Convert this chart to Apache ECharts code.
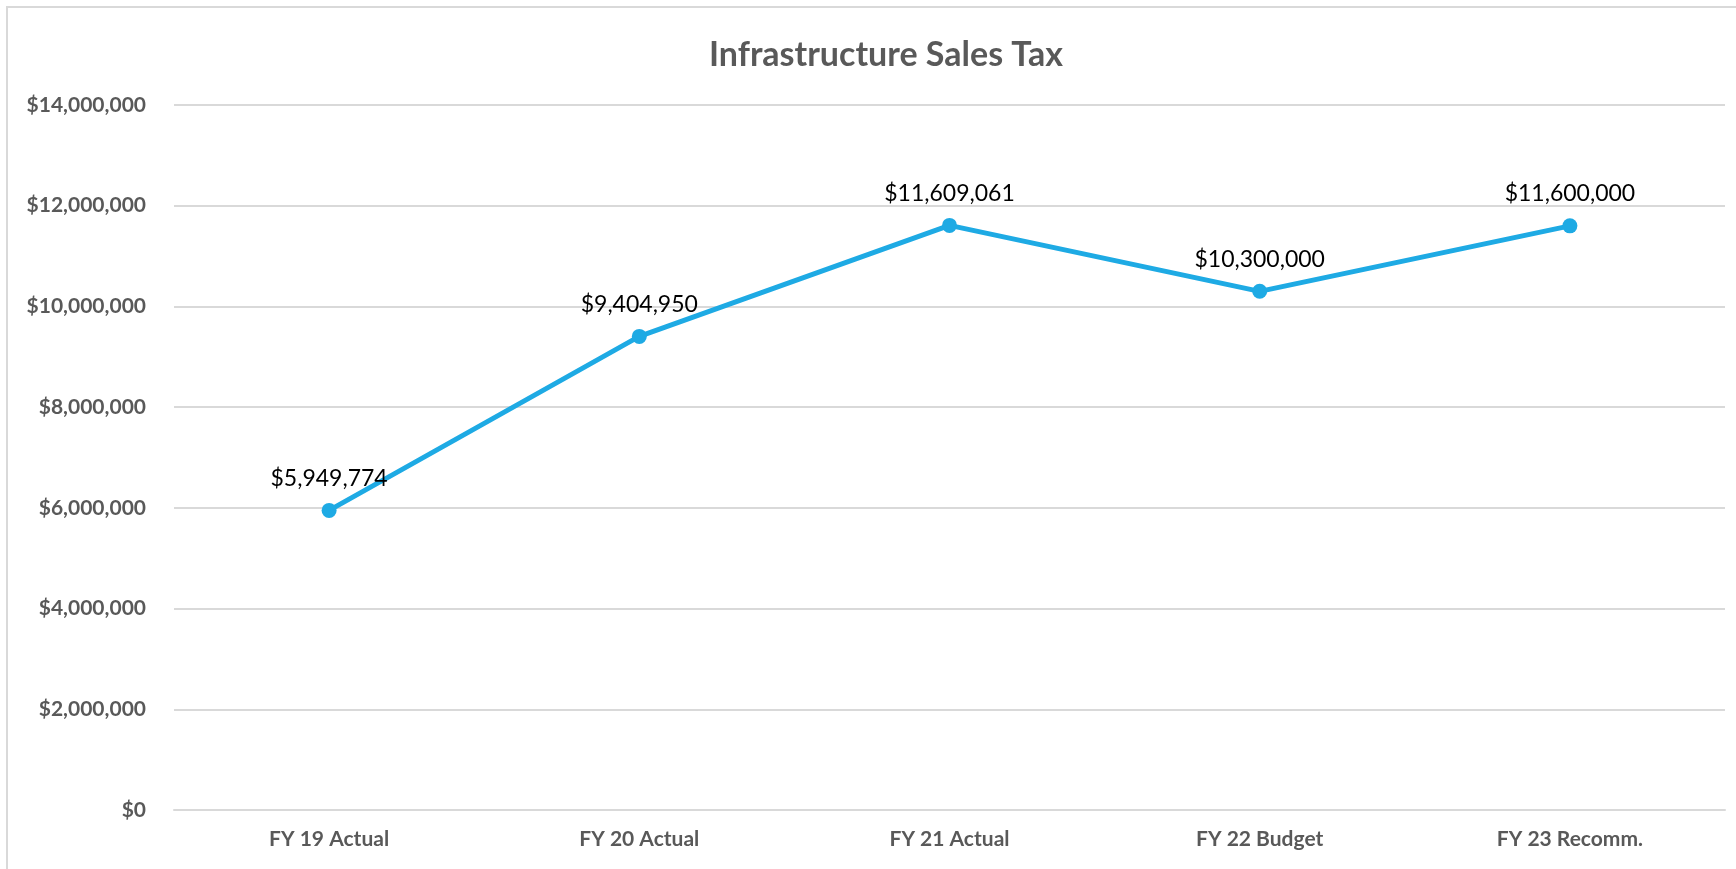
<!DOCTYPE html>
<html>
<head>
<meta charset="utf-8">
<script src="https://cdn.jsdelivr.net/npm/echarts@6/dist/echarts.min.js"></script>
<style>
html,body{margin:0;padding:0;background:#fff;}
#chart{width:1736px;height:869px;}
</style>
</head>
<body>
<div id="chart"></div>
<script>
var years = ['FY 19 Actual', 'FY 20 Actual', 'FY 21 Actual', 'FY 22 Budget', 'FY 23 Recomm.'];
var salesTax = [5949774, 9404950, 11609061, 10300000, 11600000];

function money(v) {
	return '$' + Math.round(v).toString().replace(/\B(?=(\d{3})+(?!\d))/g, ',');
}

var myChart = echarts.init(document.getElementById('chart'));
var option = {
	backgroundColor: '#fff',
	title: {
		text: 'Infrastructure Sales Tax',
		left: 881,
		top: 33,
		textAlign: 'center',
		textStyle: {
			fontFamily: 'Lato',
			fontSize: 34,
			fontWeight: 'bold',
			color: '#595959'
		}
	},
	graphic: [{
		type: 'rect',
		shape: {x: 7, y: 7, width: 1740, height: 900},
		style: {fill: 'none', stroke: '#d9d9d9', lineWidth: 2},
		silent: true
	}],
	grid: {left: 174, right: 11, top: 105, bottom: 59},
	xAxis: {
		type: 'category',
		data: years,
		axisLine: {show: true, lineStyle: {color: '#d9d9d9', width: 2}},
		axisTick: {show: false},
		axisLabel: {
			margin: 19,
			fontFamily: 'Lato',
			fontSize: 21,
			fontWeight: 'bold',
			color: '#595959'
		}
	},
	yAxis: {
		type: 'value',
		min: 0,
		max: 14000000,
		interval: 2000000,
		axisLine: {show: false},
		axisTick: {show: false},
		splitLine: {lineStyle: {color: '#d9d9d9', width: 2}},
		axisLabel: {
			margin: 28,
			fontFamily: 'Lato',
			fontSize: 21,
			fontWeight: 'bold',
			color: '#595959',
			formatter: money
		}
	},
	series: [{
		type: 'line',
		data: salesTax,
		symbol: 'circle',
		symbolSize: 15,
		lineStyle: {color: '#1eaae4', width: 5},
		itemStyle: {color: '#1eaae4'},
		label: {
			show: true,
			position: 'top',
			distance: 13,
			fontFamily: 'Lato',
			fontSize: 23,
			color: '#000',
			formatter: function (p) { return money(p.value); }
		}
	}]
};
myChart.setOption(option);
</script>
</body>
</html>
